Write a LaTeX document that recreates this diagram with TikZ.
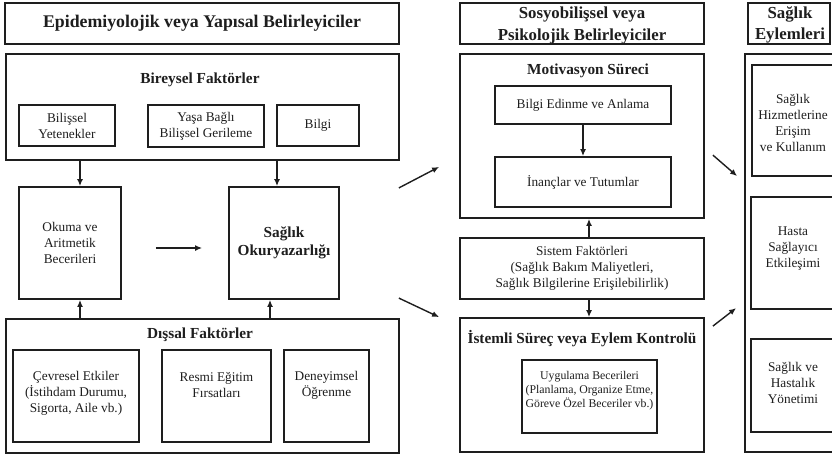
\documentclass[tikz,border=0pt]{standalone}
\usepackage{fontspec}
\setmainfont{Liberation Serif}
\usetikzlibrary{arrows.meta}
\definecolor{ink}{HTML}{1E1E1E}
\newcommand\fnorm{\fontsize{13.3}{16}\selectfont}
\newcommand\fsmall{\fontsize{11.8}{14}\selectfont}
\newcommand\fhead{\bfseries\fontsize{15.3}{18}\selectfont}
\newcommand\ftitleb{\bfseries\fontsize{16.8}{21.5}\selectfont}
\newcommand\ftitlea{\bfseries\fontsize{17.8}{21}\selectfont}
% box from corner (x1,y1) to corner (x2,y2)
\newcommand\mkbox[7][]{\node[bx,#1,minimum width={#5-#3},minimum height={#6-#4}] (#2) at ({(#3+#5)/2},{(#4+#6)/2}) {#7};}
\begin{document}
\begin{tikzpicture}[x=1pt,y=-1pt,
  bx/.style={draw=ink,line width=1.8pt,inner sep=0pt,align=center,text=ink,font=\fnorm},
  txt/.style={inner sep=0pt,align=center,text=ink,font=\fnorm},
  arr/.style={draw=ink,line width=1.4pt,-{Latex[length=7pt,width=6pt]}}]
\useasboundingbox (0,0) rectangle (832,456);
\fill[white] (0,0) rectangle (832,456);
\clip (0,0) rectangle (832,456);

% left column: structural determinants
\mkbox[font=\ftitlea]{title1}{5}{3}{399}{44}{Epidemiyolojik veya Yapısal Belirleyiciler}
\mkbox{bireysel}{6}{54}{399}{160}{}
\node[txt,font=\fhead] (bireyselL) at (200,80) {Bireysel Faktörler};
\mkbox{bily}{19}{105}{115}{146}{Bilişsel\\Yetenekler}
\mkbox{yas}{148}{105}{264}{147}{Yaşa Bağlı\\Bilişsel Gerileme}
\mkbox{bilgi}{277}{105}{359}{146}{Bilgi}
\mkbox{okuma}{19}{187}{121}{299}{Okuma ve\\Aritmetik\\Becerileri}
\mkbox[font=\fhead]{so}{229}{187}{339}{299}{Sağlık\\Okuryazarlığı}
\mkbox{dissal}{6}{319}{399}{453}{}
\node[txt,font=\fhead] (dissalL) at (200,335) {Dışsal Faktörler};
\mkbox{cev}{13}{350}{139}{442}{}
\node[txt] (cevL) at (76,393) {Çevresel Etkiler\\(İstihdam Durumu,\\Sigorta, Aile vb.)};
\mkbox{res}{162}{350}{271}{442}{}
\node[txt] (resL) at (216.5,385) {Resmi Eğitim\\Fırsatları};
\mkbox{den}{284}{350}{369}{442}{}
\node[txt] (denL) at (326.5,385) {Deneyimsel\\Öğrenme};

\coordinate (xa) at (80,0);
\coordinate (xb) at (277,0);
\coordinate (xc) at (270,0);
\draw[arr] (bireysel.south -| xa) -- (okuma.north -| xa);
\draw[arr] (bireysel.south -| xb) -- (so.north -| xb);
\draw[arr] (dissal.north -| xa) -- (okuma.south -| xa);
\draw[arr] (dissal.north -| xc) -- (so.south -| xc);
\draw[arr] ([shift={(34,5)}]okuma.east) -- ([shift={(-26,5)}]so.west);

% middle column: sociocognitive determinants
\mkbox{title2}{460}{3}{704}{44}{}
\node[txt,font=\ftitleb] (title2L) at (582,25.5) {Sosyobilişsel veya\\Psikolojik Belirleyiciler};
\mkbox{motiv}{460}{54}{704}{218}{}
\node[txt,font=\fhead] (motivL) at (588,71) {Motivasyon Süreci};
\mkbox{bem}{495}{86}{671}{124}{Bilgi Edinme ve Anlama}
\mkbox{inanc}{495}{157}{671}{207}{İnançlar ve Tutumlar}
\mkbox{sistem}{460}{238}{704}{299}{Sistem Faktörleri\\(Sağlık Bakım Maliyetleri,\\Sağlık Bilgilerine Erişilebilirlik)}
\mkbox{istemli}{460}{318}{704}{452}{}
\node[txt,font=\fhead] (istemliL) at (582,339) {İstemli Süreç veya Eylem Kontrolü};
\mkbox{uyg}{522}{360}{657}{433}{}
\node[txt,font=\fsmall] (uygL) at (589.5,391) {Uygulama Becerileri\\(Planlama, Organize Etme,\\Göreve Özel Beceriler vb.)};

\coordinate (xd) at (589,0);
\draw[arr] (bem) -- (inanc);
\draw[arr] (sistem.north -| xd) -- (motiv.south -| xd);
\draw[arr] (sistem.south -| xd) -- (istemli.north -| xd);

% right column: health actions
\mkbox{title3}{748}{3}{830}{44}{}
\node[txt,font=\ftitleb] (title3L) at (790,25) {Sağlık\\Eylemleri};
\mkbox{eylem}{745}{54}{860}{452}{}
\mkbox{e1}{752}{65}{860}{176}{}
\node[txt] (e1L) at (793,123) {Sağlık\\Hizmetlerine\\Erişim\\ve Kullanım};
\mkbox{e2}{751}{197}{860}{309}{}
\node[txt] (e2L) at (793,249) {Hasta\\Sağlayıcı\\Etkileşimi};
\mkbox{e3}{751}{339}{860}{432}{}
\node[txt] (e3L) at (793,383) {Sağlık ve\\Hastalık\\Yönetimi};

% links between the columns
\draw[arr] ([shift={(-1,27)}]bireysel.south east) -- ([shift={(-20,-52)}]motiv.south west);
\draw[arr] ([shift={(-1,-20)}]dissal.north east) -- ([shift={(-20,0)}]istemli.north west);
\draw[arr] ([shift={(8,102)}]motiv.north east) -- ([shift={(-7,123)}]eylem.north west);
\draw[arr] ([shift={(8,9)}]istemli.north east) -- ([shift={(-8,255)}]eylem.north west);
\end{tikzpicture}
\end{document}
